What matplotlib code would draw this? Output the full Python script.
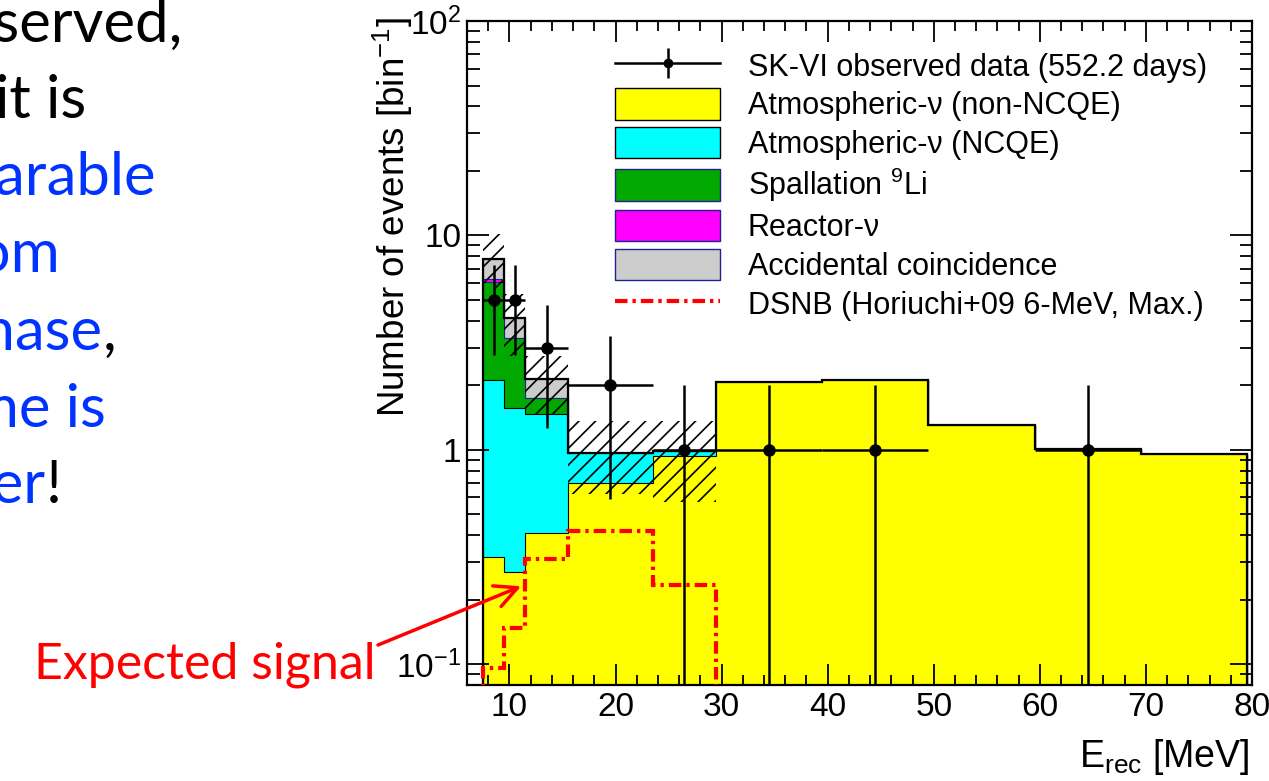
import matplotlib
matplotlib.use("Agg")
import matplotlib.pyplot as plt
import matplotlib.ticker as mticker
from matplotlib import font_manager as fm
from matplotlib.lines import Line2D
from matplotlib.patches import Patch
import numpy as np

# bin edges of the E_rec histogram [MeV]
edges = [7.5, 9.5, 11.5, 15.5, 23.5, 29.5, 39.5, 49.5, 59.5, 69.5, 79.5]

# expected events per bin
atm_non_ncqe = [0.316, 0.269, 0.41, 0.70, 0.94, 2.08, 2.12, 1.30, 1.01, 0.96]
atm_ncqe = [1.80, 1.30, 1.06, 0.27, 0.05, 0, 0, 0, 0, 0]
spall_li9 = [3.93, 1.75, 0.27, 0, 0, 0, 0, 0, 0, 0]
reactor = [0.23, 0.01, 0.01, 0, 0, 0, 0, 0, 0, 0]
accidental = [1.46, 0.80, 0.38, 0, 0, 0, 0, 0, 0, 0]

# uncertainty band on the first five bins
band_lo = [5.6, 2.75, 1.47, 0.62, 0.57]
band_hi = [10.2, 5.34, 2.75, 1.37, 1.37]

# DSNB prediction (Horiuchi+09 6 MeV)
dsnb = [0.096, 0.148, 0.308, 0.42, 0.234]

# observed data
data_x = [8.5, 10.5, 13.5, 19.5, 26.5, 34.5, 44.5, 64.5]
data_y = [5, 5, 3, 2, 1, 1, 1, 1]
data_xerr = [1, 1, 2, 4, 3, 5, 5, 5]
data_yerr = [2.24, 2.24, 1.73, 1.41, 1, 1, 1, 1]

x_ticks = [10, 20, 30, 40, 50, 60, 70, 80]
y_ticks = [0.1, 1, 10, 100]
y_ticklabels = ["$10^{-1}$", "1", "10", "$10^{2}$"]

legend_labels = [
    "SK-VI observed data (552.2 days)",
    "Atmospheric-\u03bd (non-NCQE)",
    "Atmospheric-\u03bd (NCQE)",
    "Spallation $^{9}$Li",
    "Reactor-\u03bd",
    "Accidental coincidence",
    "DSNB (Horiuchi+09 6-MeV, Max.)",
]

# slide text (cut at the left edge of the slide)
slide_lines = [
    [("observed,", "black")],
    [("it is", "black")],
    [("comparable", "#0033ff")],
    [("from", "#0033ff")],
    [("phase", "#0033ff"), (",", "black")],
    [("time is", "#0033ff")],
    [("better", "#0033ff"), ("!", "black")],
]

# ---------------------------------------------------------------- fonts
names = {f.name for f in fm.fontManager.ttflist}
root_font = "Liberation Sans Narrow" if "Liberation Sans Narrow" in names else "Liberation Sans"
plt.rcParams["font.family"] = [root_font, "DejaVu Sans"]
plt.rcParams["mathtext.fontset"] = "custom"
plt.rcParams["mathtext.rm"] = root_font
plt.rcParams["mathtext.it"] = root_font
plt.rcParams["hatch.color"] = "black"
plt.rcParams["hatch.linewidth"] = 1.2

W, H = 1269, 781
fig = plt.figure(figsize=(W / 100, H / 100), dpi=100)
ax = fig.add_axes([467 / W, (H - 685) / H, (1252 - 467) / W, (685 - 21) / H])

# ---------------------------------------------------------------- stack
layers = [atm_non_ncqe, atm_ncqe, spall_li9, reactor, accidental]
colors = ["#ffff00", "#00ffff", "#00a800", "#ff00ff", "#cccccc"]
edgecols = ["black", "black", "#202090", "#202090", "#202090"]
cum = np.cumsum(np.array(layers), axis=0)
for i in reversed(range(len(layers))):
    ax.stairs(cum[i], edges, baseline=1e-3, fill=True, facecolor=colors[i],
              edgecolor=edgecols[i], lw=0.8, zorder=1 + (4 - i) * 0.1)

ax.stairs(band_hi, edges[:6], baseline=band_lo, fill=True, facecolor="none",
          edgecolor="black", lw=0, hatch="//", zorder=2)
ax.stairs(cum[-1], edges, baseline=1e-3, fill=False, color="black", lw=1.6, zorder=3)

ax.stairs(dsnb, edges[:6], baseline=1e-3, fill=False, color="red", lw=3,
          linestyle=(0, (3, 1.2, 0.8, 1.2)), zorder=4)

ax.errorbar(data_x, data_y, xerr=data_xerr, yerr=data_yerr, fmt="o", color="black",
            ms=8, elinewidth=1.8, capsize=0, zorder=6)

# ---------------------------------------------------------------- axes
ax.set_yscale("log", nonpositive="clip")
ax.set_xlim(6, 80)
ax.set_ylim(0.08, 100)
ax.set_xticks(x_ticks)
ax.set_xticklabels([str(t) for t in x_ticks])
ax.xaxis.set_minor_locator(mticker.MultipleLocator(2))
ax.yaxis.set_major_locator(mticker.FixedLocator(y_ticks))
ax.yaxis.set_major_formatter(mticker.FixedFormatter(y_ticklabels))
ax.yaxis.set_minor_locator(mticker.LogLocator(subs=np.arange(2, 10)))
ax.yaxis.set_minor_formatter(mticker.NullFormatter())
ax.tick_params(which="both", direction="in", top=True, right=True, width=1.3,
               labelsize=24, colors="black")
ax.tick_params(axis="x", which="major", length=15, pad=5)
ax.tick_params(axis="x", which="minor", length=7)
ax.tick_params(axis="y", which="major", length=16, pad=4)
ax.tick_params(axis="y", which="minor", length=9)
for s in ax.spines.values():
    s.set_linewidth(1.6)

ax.text(-0.094, 1.005, "Number of events [bin$^{-1}$]", transform=ax.transAxes,
        rotation=90, ha="center", va="top", fontsize=26.5, family="Liberation Sans")
fig.text(1250 / W, 4 / H, "E$_{\\rm rec}$ [MeV]", ha="right", va="bottom", fontsize=27)

# ---------------------------------------------------------------- legend
handles = [
    (Line2D([], [], color="black", lw=1.8, marker="o", ms=6),
     Line2D([], [], color="black", ls="none", marker="|", ms=22, mew=1.8)),
    Patch(facecolor=colors[0], edgecolor="black"),
    Patch(facecolor=colors[1], edgecolor="black"),
    Patch(facecolor=colors[2], edgecolor="#202090"),
    Patch(facecolor=colors[3], edgecolor="#202090"),
    Patch(facecolor=colors[4], edgecolor="#202090"),
    Line2D([], [], color="red", lw=3, linestyle=(0, (3, 1.2, 0.8, 1.2))),
]
ax.legend(handles, legend_labels, loc="upper left", bbox_to_anchor=(0.1885, 0.957),
          frameon=False, fontsize=22, handlelength=3.45, handleheight=1.2,
          handletextpad=0.9, labelspacing=0.19, borderpad=0, borderaxespad=0)

# ---------------------------------------------------------------- slide text
baselines = [739, 663, 586, 509, 431, 354, 278]
right_edges = [183, 86, 156, 60, 103, 106, 46]
for parts, yb, xr in zip(slide_lines, baselines, right_edges):
    fig.text(xr / W, yb / H, parts[0][0], color=parts[0][1], ha="right",
             va="baseline", fontsize=43, family="Lato")
    if len(parts) > 1:
        fig.text(xr / W, yb / H, parts[1][0], color=parts[1][1], ha="left",
                 va="baseline", fontsize=43, family="Lato")

fig.text(376 / W, 103 / H, "Expected signal", color="red", ha="right",
         va="baseline", fontsize=36, family="Lato")
ax.annotate("", xy=(11.1, 0.231), xycoords="data", xytext=(378, H - 645),
            textcoords="figure pixels", annotation_clip=False,
            arrowprops=dict(arrowstyle="->", color="red", lw=2.5, mutation_scale=40,
                            shrinkA=0, shrinkB=0), zorder=7)

fig.savefig("out.png", dpi=100)
